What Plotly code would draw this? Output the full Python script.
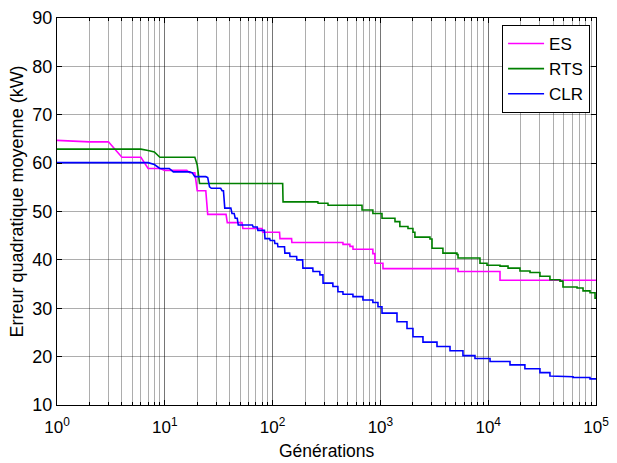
import plotly.graph_objects as go

# Step data: generation at which each new value begins, and the value
es_gen = [1, 2, 4, 7, 10, 17, 20, 25, 38, 53, 81, 117, 151, 450, 522, 557, 852, 890, 1057, 5250, 12870]
es_val = [64.7, 64.4, 61.2, 58.9, 58.5, 58.0, 54.3, 49.4, 47.7, 46.5, 45.7, 44.4, 43.6, 43.2, 42.8, 42.2, 41.3, 39.3, 38.2, 37.6, 35.8]

rts_gen = [1, 7, 8, 9, 20, 21, 125, 264, 327, 676, 852, 1035, 1366, 1516, 1803, 2005, 2091, 2884, 3012,
           3802, 5130, 5250, 8390, 9750, 12870, 15280, 19720, 24430, 30200, 37400, 46300, 49400, 66700,
           75800, 88000, 98000]
rts_val = [62.9, 62.6, 62.3, 61.2, 59.6, 55.8, 52.0, 51.7, 51.3, 50.3, 49.6, 48.6, 47.9, 46.9, 46.5, 45.7, 44.7, 44.3, 42.4,
           41.4, 41.1, 40.4, 39.3, 38.9, 38.7, 38.3, 37.7, 37.4, 36.6, 35.9, 35.6, 34.4, 34.2,
           33.6, 33.2, 32.1]

clr_gen = [1, 8, 9, 12, 18, 19, 25, 26, 27, 34, 36, 42, 45, 48, 66, 73, 85, 95, 105, 112, 130, 145, 168, 191,
           237, 275, 294, 363, 404, 450, 557, 689, 852, 950, 1035, 1426, 1765, 2005, 2483, 3350, 4424,
           5834, 7540, 10400, 15930, 21900, 30200, 37400, 46300, 61200, 88000]
clr_val = [60.1, 59.7, 58.9, 58.2, 58.0, 57.2, 57.0, 55.1, 54.8, 54.3, 50.7, 49.6, 48.6, 47.2, 46.8, 46.1, 44.4, 44.0, 43.4, 42.7, 41.4, 40.7, 40.0, 38.3,
           37.6, 36.9, 35.2, 34.5, 33.4, 32.9, 32.4, 31.7, 31.2, 30.3, 29.0, 27.2, 25.8, 24.1, 23.0, 22.1, 21.2,
           20.2, 19.6, 19.0, 18.3, 17.5, 16.7, 16.0, 15.85, 15.7, 15.4]

last_gen = 100000
x_tickvals = [1, 10, 100, 1000, 10000, 100000]
x_ticktext = ["10<sup>0</sup>", "10<sup>1</sup>", "10<sup>2</sup>", "10<sup>3</sup>", "10<sup>4</sup>", "10<sup>5</sup>"]
y_tickvals = [10, 20, 30, 40, 50, 60, 70, 80, 90]
x_title = "Générations"
y_title = "Erreur quadratique moyenne (kW)"


def per_generation_path(gens, vals, end):
    """Values recorded once per generation: a change at generation g is drawn from g-1 to g."""
    xs, ys = [gens[0]], [vals[0]]
    prev = vals[0]
    for g, v in zip(gens[1:], vals[1:]):
        xs += [g - 1, g]
        ys += [prev, v]
        prev = v
    xs.append(end)
    ys.append(prev)
    return xs, ys


series = [("ES", es_gen, es_val, "#FF00FF"),
          ("RTS", rts_gen, rts_val, "#008000"),
          ("CLR", clr_gen, clr_val, "#0000FF")]

fig = go.Figure()
for name, g, v, c in series:
    xs, ys = per_generation_path(g, v, last_gen)
    fig.add_trace(go.Scatter(x=xs, y=ys, mode="lines", name=name,
                             line=dict(color=c, width=1.6)))

font = "Liberation Sans, Arial, sans-serif"
grid_col = "rgba(0,0,0,0.32)"

# The page body adds an 8px offset, so the figure is sized 8px smaller.
fig.update_layout(
    width=609, height=455,
    margin=dict(l=49, r=21, t=10, b=58),
    paper_bgcolor="white", plot_bgcolor="white",
    font=dict(family=font, size=17, color="black"),
    showlegend=True,
    legend=dict(x=0.989, y=0.982, xanchor="right", yanchor="top",
                bgcolor="white", bordercolor="black", borderwidth=1,
                font=dict(size=17), tracegroupgap=0, itemwidth=36),
    annotations=[
        dict(text=x_title, xref="paper", yref="paper", x=0.5, y=0,
             yshift=-46, xanchor="center", yanchor="middle", showarrow=False,
             font=dict(size=17.5)),
        dict(text=y_title, xref="paper", yref="paper", x=0, y=0.5,
             xshift=-41, yshift=10, xanchor="center", yanchor="middle", showarrow=False,
             textangle=-90, font=dict(size=18)),
    ],
)

fig.update_xaxes(
    type="log", range=[0, 5], automargin=False,
    tickvals=x_tickvals, ticktext=x_ticktext,
    showline=True, linecolor="black", linewidth=1, mirror="ticks",
    ticks="inside", ticklen=5, tickcolor="black",
    showgrid=True, gridcolor=grid_col, gridwidth=1,
    minor=dict(dtick="D1", ticks="inside", ticklen=3, tickcolor="black",
               showgrid=True, gridcolor=grid_col, gridwidth=1),
    zeroline=False, ticklabelstandoff=7,
    tickfont=dict(size=17),
)
fig.update_yaxes(
    range=[10, 90], tickvals=y_tickvals, automargin=False,
    showline=True, linecolor="black", linewidth=1, mirror="ticks",
    ticks="inside", ticklen=5, tickcolor="black",
    showgrid=True, gridcolor=grid_col, gridwidth=1,
    zeroline=False,
    tickfont=dict(size=18),
)

fig.write_html("out.html")
